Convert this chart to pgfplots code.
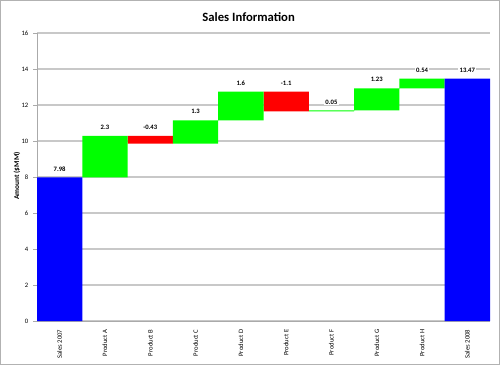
\documentclass[border=0pt]{standalone}
\usepackage{pgfplots}
\pgfplotsset{compat=1.18}
\usepackage{fontspec}
\setmainfont{Carlito}
\definecolor{gridgray}{RGB}{200,200,200}
\definecolor{axgray}{RGB}{170,170,170}
\definecolor{cblue}{RGB}{0,0,255}
\definecolor{cgreen}{RGB}{0,255,0}
\definecolor{cred}{RGB}{255,0,0}
\tikzset{vlab/.style={anchor=south, fill=white, inner sep=1pt, yshift=3.5pt, font=\bfseries\fontsize{5}{6}\selectfont}}
\begin{document}
\begin{tikzpicture}
\useasboundingbox (0,0) rectangle (375pt,273.75pt);
\draw[gray!60, line width=1pt] (0.5pt,0.5pt) rectangle (374.5pt,273.25pt);
\node[font=\bfseries\fontsize{9.5}{11}\selectfont] at (186.5pt,261pt) {Sales Information};
\node[rotate=90, font=\bfseries\fontsize{5.5}{6.5}\selectfont] at (12.75pt,141.75pt) {Amount (\$MM)};
\begin{axis}[
  at={(27.75pt,33pt)}, anchor=south west,
  scale only axis, width=339.75pt, height=216pt,
  ybar stacked, bar width=1,
  xmin=-0.5, xmax=9.5, ymin=0, ymax=16,
  ytick={0,2,...,16},
  xtick={0,...,9},
  xticklabels={Sales 2007,Product A,Product B,Product C,Product D,Product E,Product F,Product G,Product H,Sales 2008},
  xticklabel style={rotate=90, anchor=east, font=\fontsize{5}{6}\selectfont},
  yticklabel style={font=\fontsize{5}{6}\selectfont},
  /pgf/number format/assume math mode=true,
  ymajorgrids, grid style={gridgray, line width=1pt},
  axis x line*=bottom, axis y line*=left,
  axis line style={axgray, line width=0.6pt, -},
  xtick style={draw=none},
  ytick style={axgray, line width=0.5pt},
  major tick length=3pt,
  tick align=outside,
  clip=false,
]
\addplot[draw=none, fill=white, fill opacity=0] coordinates {(0,0) (1,7.98) (2,9.85) (3,9.85) (4,11.15) (5,11.65) (6,11.65) (7,11.70) (8,12.93) (9,0)};
\addplot[fill=cblue, draw=none] coordinates {(0,7.98) (1,0) (2,0) (3,0) (4,0) (5,0) (6,0) (7,0) (8,0) (9,13.47)};
\addplot[fill=cgreen, draw=none] coordinates {(0,0) (1,2.3) (2,0) (3,1.3) (4,1.6) (5,0) (6,0.05) (7,1.23) (8,0.54) (9,0)};
\addplot[fill=cred, draw=none] coordinates {(0,0) (1,0) (2,0.43) (3,0) (4,0) (5,1.1) (6,0) (7,0) (8,0) (9,0)};
\node[vlab] at (axis cs:0,7.98) {7.98};
\node[vlab] at (axis cs:1,10.28) {2.3};
\node[vlab] at (axis cs:2,10.28) {-0.43};
\node[vlab] at (axis cs:3,11.15) {1.3};
\node[vlab] at (axis cs:4,12.75) {1.6};
\node[vlab] at (axis cs:5,12.75) {-1.1};
\node[vlab] at (axis cs:6,11.70) {0.05};
\node[vlab] at (axis cs:7,12.93) {1.23};
\node[vlab] at (axis cs:8,13.47) {0.54};
\node[vlab] at (axis cs:9,13.47) {13.47};
\end{axis}
\end{tikzpicture}
\end{document}
